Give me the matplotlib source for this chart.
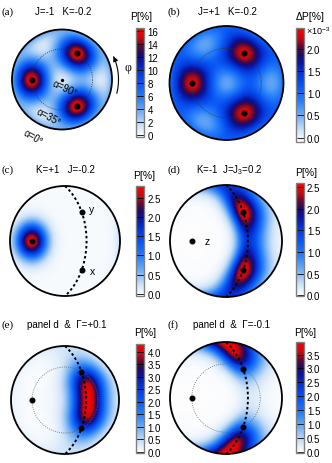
import numpy as np
import matplotlib
matplotlib.use('Agg')
import matplotlib.pyplot as plt
from matplotlib.colors import LinearSegmentedColormap
from matplotlib.patches import Circle

plt.rcParams['font.family'] = ['Liberation Sans', 'DejaVu Sans']
plt.rcParams['mathtext.fontset'] = 'custom'
plt.rcParams['mathtext.rm'] = 'Liberation Sans'
plt.rcParams['mathtext.it'] = 'Liberation Sans:italic'

W, H = 332, 464
fig = plt.figure(figsize=(W / 100, H / 100), dpi=100)

# ---------------- data ----------------
panel_ids = ['(a)', '(b)', '(c)', '(d)', '(e)', '(f)']
panel_titles = ['J=-1   K=-0.2', 'J=+1   K=-0.2', 'K=+1   J=-0.2',
                'K=-1  J=J$_3$=0.2', 'panel d  &  Γ=+0.1', 'panel d  &  Γ=-0.1']
cbar_labels = ['P[%]', 'ΔP[%]', 'P[%]', 'P[%]', 'P[%]', 'P[%]']
cbar_min = [-0.3, -0.1, -0.05, -0.02, -0.05, -0.03]
cbar_max = [16.5, 2.48, 2.8, 2.6, 4.3, 3.95]
ticks_a = [0, 2, 4, 6, 8, 10, 12, 14, 16]
ticks_b = [0.0, 0.5, 1.0, 1.5, 2.0]
ticks_c = [0.0, 0.5, 1.0, 1.5, 2.0, 2.5]
ticks_d = [0.0, 0.5, 1.0, 1.5, 2.0, 2.5]
ticks_e = [0.0, 0.5, 1.0, 1.5, 2.0, 2.5, 3.0, 3.5, 4.0]
ticks_f = [0.0, 0.5, 1.0, 1.5, 2.0, 2.5, 3.0, 3.5]
tick_fmt = ['%d', '%.1f', '%.1f', '%.1f', '%.1f', '%.1f']
peak_heights = [16.4, 2.4, 2.75, 2.55, 4.25, 3.9]

# cubic-axis peaks (panels a, b): peak amplitude, background amplitude, offset, width (rad)
cubic_amp = [15.2, 1.4]
cubic_bg = [1.0, 0.45]
cubic_offset = [0.0, 0.5]
cubic_width = [0.5, 0.47]
# uniaxial (panel c)
uniax_width = 0.41
# easy-plane models (panels d, e, f): plane stiffness on the z side and the -z side,
# preferred nz, fourfold strength, Gamma strength, Gamma angle (deg)
plane_c1_pos = [10.0, 4.5, 9.0]
plane_c1_neg = [4.5, 4.5, 4.5]
plane_nz0 = [0.0, -0.07, 0.0]
fourfold_c4 = [0.48, 0.6, 0.6]
gamma_cg = [0.0, 1.2, 1.3]
gamma_phi = [45.0, 45.0, 135.0]

axis_names = ['x', 'y', 'z']
axis_vecs = [[1, 0, 0], [0, 1, 0], [0, 0, 1]]
alpha_circle_deg = 35.0

# geometry (pixels): circle centre and radius, colorbar box, label positions
circ_cx = [62, 226.5, 65, 226, 65, 226]
circ_cy = [80.5, 84, 242, 242, 401, 399]
circ_r = [50, 57, 55, 56, 54, 56]
cbar_box = [(136, 29, 8, 109), (296, 29, 7.5, 114), (136, 187, 8, 110),
            (296, 184, 7.5, 113), (136, 345, 8, 109), (296, 343, 7.5, 111)]
cbar_lab_xy = [(141, 17), (310, 17), (144, 176), (306, 173), (145, 333), (305, 333)]
id_xy = [(2, 12), (168, 12), (2, 170), (168, 170), (2, 325), (168, 325)]
title_xy = [(35, 12), (198, 12), (36, 170), (196, 170), (27, 325), (193, 325)]

# ---------------- projection ----------------
d_vec = np.array([1, 1, 1]) / np.sqrt(3)
e1 = np.array([1, 1, -2]) / np.sqrt(6)
e2 = np.array([-1, 1, 0]) / np.sqrt(2)


def project(v):
    v = np.asarray(v, float)
    v = v / np.linalg.norm(v, axis=-1, keepdims=True)
    c = np.clip(v @ d_vec, -1, 1)
    p = np.arccos(c)
    ang = np.arctan2(v @ e2, v @ e1)
    r = p / (np.pi / 2)
    return r * np.cos(ang), r * np.sin(ang)


N = 360
g = np.linspace(-1, 1, N)
U, V = np.meshgrid(g, g)
R = np.hypot(U, V)
Pang = R * np.pi / 2
safe = np.where(R == 0, 1e-9, R)
sfac = np.sin(Pang) / safe
n = (np.cos(Pang)[..., None] * d_vec
     + (sfac * U)[..., None] * e1 + (sfac * V)[..., None] * e2)
nx, ny, nz = n[..., 0], n[..., 1], n[..., 2]
inside = R <= 1.0


def cubic_field(i):
    S = (nx * ny * nz) ** 2
    tot = np.zeros_like(nx)
    for comp in (nx, ny, nz):
        th = np.arccos(np.clip(np.abs(comp), 0, 1))
        tot += np.exp(-th ** 2 / cubic_width[i] ** 2)
    return cubic_offset[i] + cubic_amp[i] * tot + cubic_bg[i] * (1 - 27 * S)


def uniax_field():
    th = np.arccos(np.clip(np.abs(nz), 0, 1))
    return peak_heights[2] * np.exp(-th ** 2 / uniax_width ** 2)


def plane_field(k, peak):
    phi = np.arctan2(ny, nx)
    dz = nz - plane_nz0[k]
    c1 = np.where(dz >= 0, plane_c1_pos[k], plane_c1_neg[k])
    L = (-c1 * dz ** 2 + fourfold_c4[k] * (np.cos(2 * phi) ** 2 - 1)
         + gamma_cg[k] * (np.cos(2 * (phi - np.radians(gamma_phi[k]))) - 1))
    Lmax = L[inside].max()
    return peak * np.exp(L - Lmax)


fields = [cubic_field(0), cubic_field(1), uniax_field(),
          plane_field(0, peak_heights[3]), plane_field(1, peak_heights[4]),
          plane_field(2, peak_heights[5])]

cmap = LinearSegmentedColormap.from_list('pm', [
    (0.00, '#ffffff'), (0.10, '#cfe3f8'), (0.22, '#78b2f4'), (0.35, '#2a82fa'),
    (0.48, '#0a58f4'), (0.60, '#0436d8'), (0.70, '#0a14a0'), (0.77, '#1c0a6a'),
    (0.84, '#640830'), (0.91, '#c40a10'), (1.00, '#ff0000')])


def pbox(x, y, w, h):
    return [x / W, 1 - (y + h) / H, w / W, h / H]


ticks_all = [ticks_a, ticks_b, ticks_c, ticks_d, ticks_e, ticks_f]
lim = 1.06

# arc of the great circle perpendicular to z
t = np.linspace(0, np.pi, 200)
arc_vecs = (np.cos(t)[:, None] * np.array([-1, 1, 0]) / np.sqrt(2)
            + np.sin(t)[:, None] * np.array([1, 1, 0]) / np.sqrt(2))
arc_u, arc_v = project(arc_vecs)
ax_u, ax_v = project(axis_vecs)
rc = (90 - alpha_circle_deg) / 90

for i in range(6):
    cx, cy, r = circ_cx[i], circ_cy[i], circ_r[i]
    ax = fig.add_axes(pbox(cx - r * lim, cy - r * lim, 2 * r * lim, 2 * r * lim))
    ax.set_xlim(-lim, lim)
    ax.set_ylim(-lim, lim)
    ax.set_aspect('equal')
    ax.axis('off')
    im = ax.imshow(fields[i], origin='lower', extent=[-1, 1, -1, 1], cmap=cmap,
                   vmin=cbar_min[i], vmax=cbar_max[i], interpolation='bilinear')
    clip = Circle((0, 0), 1.0, transform=ax.transData)
    im.set_clip_path(clip)
    ax.add_patch(Circle((0, 0), 1.0, fill=False, ec='black', lw=1.3, zorder=5))

    if i in (0, 1, 4, 5):
        tt = np.linspace(0, 2 * np.pi, 300)
        ax.plot(rc * np.cos(tt), rc * np.sin(tt), ls=(0, (1, 1.6)),
                color='#333333' if i < 2 else '#666666', lw=0.6, zorder=6)
    if i >= 2:
        ax.plot(arc_u, arc_v, ls=(0, (1.3, 1.3)), color='black', lw=1.4, zorder=6)

    ax.plot(ax_u, ax_v, 'o', color='black', ms=3.3, zorder=7)
    if i == 2:
        ax.text(ax_u[1] + 0.14, ax_v[1] + 0.06, 'y', fontsize=7.5, va='center', ha='left')
        ax.text(ax_u[0] + 0.14, ax_v[0] - 0.02, 'x', fontsize=7.5, va='center', ha='left')
    elif i == 3:
        ax.text(ax_u[2] + 0.22, ax_v[2], 'z', fontsize=7.5, va='center', ha='left')

    if i == 0:
        ax.plot([0], [0], 'o', color='black', ms=1.4, zorder=7)
        ax.text(0.05, -0.17, 'α=90°', fontsize=7, rotation=-25, ha='center', va='center', zorder=8)
        ax.text(-0.26, -0.74, 'α=35°', fontsize=7, rotation=-28, ha='center', va='center', zorder=8)
        ax.text(-0.58, -1.15, 'α=0°', fontsize=7, rotation=-30, ha='center', va='center', zorder=8)
        aa = np.radians(np.linspace(-14, 22, 60))
        ra = 1.13
        ax.plot(ra * np.cos(aa), ra * np.sin(aa), color='black', lw=0.8, clip_on=False)
        ax.annotate('', xy=(ra * np.cos(np.radians(27)), ra * np.sin(np.radians(27))),
                    xytext=(ra * np.cos(np.radians(21)), ra * np.sin(np.radians(21))),
                    arrowprops=dict(arrowstyle='-|>', lw=0.8, color='black', mutation_scale=7),
                    annotation_clip=False)
        ax.text(1.32, 0.24, 'φ', fontsize=8.5, family='Liberation Serif', ha='center', va='center')

    # colorbar
    bx, by, bw, bh = cbar_box[i]
    cax = fig.add_axes(pbox(bx, by, bw, bh))
    cb = fig.colorbar(im, cax=cax, ticks=ticks_all[i])
    cb.set_ticklabels([tick_fmt[i] % v for v in ticks_all[i]])
    cb.outline.set_edgecolor('#808080')
    cb.outline.set_linewidth(1.0)
    cax.tick_params(direction='in', length=bw * 0.72, width=0.6, colors='black',
                    labelsize=7, pad=2.5)
    fig.text(cbar_lab_xy[i][0] / W, 1 - cbar_lab_xy[i][1] / H, cbar_labels[i],
             fontsize=7.5, ha='center', va='center')
    if i == 1:
        fig.text((bx + bw + 2) / W, 1 - (by + 2) / H, '×10$^{-3}$', fontsize=6.5,
                 ha='left', va='center')

    fig.text(id_xy[i][0] / W, 1 - id_xy[i][1] / H, panel_ids[i], fontsize=8,
             family='Liberation Serif', ha='left', va='center')
    fig.text(title_xy[i][0] / W, 1 - title_xy[i][1] / H, panel_titles[i], fontsize=7,
             ha='left', va='center')

fig.savefig('out.png', dpi=100)
